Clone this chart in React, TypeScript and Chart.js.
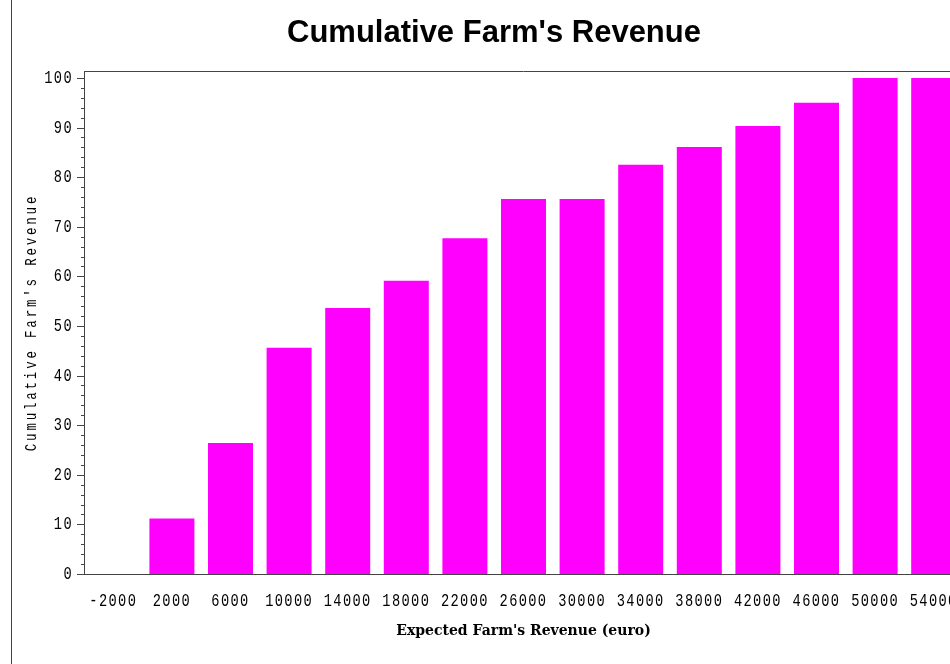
import React, { useEffect, useRef } from "react";
import { Chart, registerables } from "chart.js";

Chart.register(...registerables);

const categories = ["-2000", "2000", "6000", "10000", "14000", "18000", "22000", "26000", "30000", "34000", "38000", "42000", "46000", "50000", "54000"];
const cumulativeValues = [0, 11.2, 26.4, 45.6, 53.6, 59.1, 67.7, 75.6, 75.6, 82.5, 86.1, 90.3, 95.0, 100, 100];
const yTickValues = [0, 10, 20, 30, 40, 50, 60, 70, 80, 90, 100];

const TICK_FONT = "SimplexTick, 'Liberation Mono', monospace";
const YTITLE_FONT = "SimplexTitle, 'Liberation Mono', monospace";
const AXIS_COLOR = "#444";

const textStyles = [
  { re: /SimplexTick/, sx: 0.72, ls: 1.9 },
  { re: /SimplexTitle/, sx: 0.78, ls: 3.6 },
];

const spacingPlugin = {
  id: "spacing",
  beforeInit(chart: any) {
    const ctx = chart.ctx as any;
    const f = ctx.fillText.bind(ctx);
    const m = ctx.measureText.bind(ctx);
    const pick = () => textStyles.find((s) => s.re.test(ctx.font));
    ctx.fillText = (t: string, x: number, y: number, mw?: number) => {
      const s = pick();
      if (!s) {
        ctx.letterSpacing = "0px";
        return mw === undefined ? f(t, x, y) : f(t, x, y, mw);
      }
      ctx.save();
      ctx.letterSpacing = s.ls + "px";
      ctx.translate(x, y);
      ctx.scale(s.sx, 1);
      f(t, 0, 0);
      ctx.restore();
    };
    ctx.measureText = (t: string) => {
      const s = pick();
      ctx.letterSpacing = s ? s.ls + "px" : "0px";
      const r = m(t);
      if (!s) return r;
      return { width: r.width * s.sx, actualBoundingBoxAscent: r.actualBoundingBoxAscent, actualBoundingBoxDescent: r.actualBoundingBoxDescent };
    };
  },
};

const decorPlugin = {
  id: "decor",
  afterDraw(chart: any) {
    const ctx = chart.ctx;
    const { left, right, top } = chart.chartArea;
    const y = chart.scales.y;
    ctx.save();
    ctx.strokeStyle = AXIS_COLOR;
    ctx.lineWidth = 1;
    ctx.beginPath();
    ctx.moveTo(left, Math.round(top) + 0.5);
    ctx.lineTo(right, Math.round(top) + 0.5);
    for (let v = 0; v <= 100; v += 2) {
      const py = Math.round(y.getPixelForValue(v)) + 0.5;
      const len = v % 10 === 0 ? 7 : 3;
      ctx.moveTo(left - len, py);
      ctx.lineTo(left, py);
    }
    ctx.moveTo(11.5, 0);
    ctx.lineTo(11.5, chart.height);
    ctx.stroke();
    ctx.restore();
  },
};

export default function App() {
  const ref = useRef<HTMLCanvasElement>(null);
  useEffect(() => {
    document.body.style.margin = "0";
    document.body.style.overflow = "hidden";
    const chart = new Chart(ref.current!, {
      type: "bar",
      data: {
        labels: categories,
        datasets: [
          {
            data: cumulativeValues,
            backgroundColor: "#FF00FF",
            borderWidth: 0,
            categoryPercentage: 1,
            barPercentage: 0.768,
          },
        ],
      },
      options: {
        animation: false,
        responsive: false,
        layout: { padding: 0 },
        plugins: {
          legend: { display: false },
          tooltip: { enabled: false },
          title: {
            display: true,
            text: "Cumulative Farm's Revenue",
            color: "#000",
            font: { family: "'Liberation Sans', Arial, sans-serif", size: 31, weight: "bold" },
            padding: { top: 14.4, bottom: 19.4 },
          },
        },
        scales: {
          x: {
            grid: { display: false, drawTicks: false },
            border: { display: true, color: AXIS_COLOR, width: 1 },
            ticks: {
              color: "#000",
              font: { family: TICK_FONT, size: 19 },
              padding: 16,
              maxRotation: 0,
              autoSkip: false,
            },
            title: {
              display: true,
              text: "Expected Farm's Revenue (euro)",
              color: "#000",
              font: { family: "'DejaVu Serif', serif", size: 14, weight: "bold" },
              padding: { top: 0, bottom: 24.6 },
            },
            afterFit(scale: any) {
              scale.height = 90;
            },
          },
          y: {
            min: 0,
            max: 101.4,
            grid: { display: false, drawTicks: false },
            border: { display: true, color: AXIS_COLOR, width: 1 },
            afterBuildTicks(scale: any) {
              scale.ticks = yTickValues.map((v) => ({ value: v }));
            },
            ticks: {
              color: "#000",
              font: { family: TICK_FONT, size: 19 },
              padding: 11,
            },
            title: {
              display: true,
              text: "Cumulative Farm's Revenue",
              color: "#000",
              font: { family: YTITLE_FONT, size: 16 },
              padding: { top: 22, bottom: 0 },
            },
            afterFit(scale: any) {
              scale.width = 84;
            },
          },
          yR: {
            type: "linear",
            position: "right",
            display: true,
            grid: { display: false, drawTicks: false },
            border: { display: false },
            ticks: { display: false },
            afterFit(scale: any) {
              scale.width = 25;
            },
          },
        },
      },
      plugins: [spacingPlugin, decorPlugin],
    });
    return () => chart.destroy();
  }, []);
  return (
    <div style={{ width: 988, height: 664 }}>
      <canvas ref={ref} width={988} height={664} style={{ display: "block" }} />
    </div>
  );
}
